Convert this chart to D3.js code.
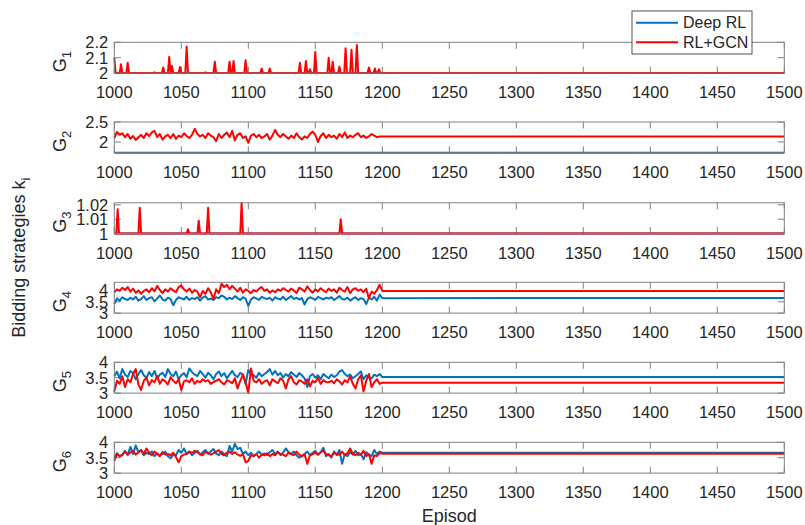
<!DOCTYPE html>
<html>
<head>
<meta charset="utf-8">
<script src="https://cdn.jsdelivr.net/npm/d3@7"></script>
<style>
body { margin: 0; background: white; }
svg { display: block; font-family: "Liberation Sans", Arial, sans-serif; }
</style>
</head>
<body>
<script>
const [width, height] = [805, 525]
const colors = {
    "blue": "#0072BD",
    "red": "#FF0000",
    "axis": "#262626",
    "box": "#808080"
}

// x axis
const episodes = d3.range(1000, 1201, 2)
const lastEpisode = 1500
const xTicks = [1000, 1050, 1100, 1150, 1200, 1250, 1300, 1350, 1400, 1450, 1500]
const seriesNames = ["Deep RL", "RL+GCN"]

// G1 and G3 only have short spikes above a flat line
const g1SpikeEp  = [1000, 1005, 1010, 1030, 1036.5, 1041, 1043, 1049, 1054, 1068, 1075, 1086, 1089, 1098, 1110, 1116, 1138.5, 1143, 1146, 1150, 1160, 1163, 1168, 1172.6, 1177, 1181, 1190, 1194.5, 1197.5]
const g1SpikeVal = [2.10, 2.057, 2.067, 2.005, 2.036, 2.105, 2.046, 2.04, 2.173, 2.005, 2.074, 2.074, 2.078, 2.084, 2.03, 2.03, 2.067, 2.078, 2.025, 2.137, 2.10, 2.074, 2.042, 2.162, 2.152, 2.183, 2.036, 2.03, 2.025]
const g3SpikeEp  = [1002.5, 1019, 1055, 1063, 1070, 1095, 1169]
const g3SpikeVal = [1.017, 1.018, 1.003, 1.009, 1.018, 1.0214, 1.010]

// noisy parts, episodes 1000..1200 step 2
const g2Red = [
    2.10,2.25,2.18,2.22,2.12,2.20,2.08,2.15,2.05,2.12,
    2.18,2.10,2.22,2.15,2.24,2.28,2.12,2.20,2.06,2.14,
    2.18,2.10,2.20,2.08,2.16,2.12,2.22,2.15,2.10,2.18,
    2.33,2.20,2.14,2.18,2.10,2.22,2.16,2.12,2.02,2.20,
    2.10,2.18,2.24,2.12,2.28,2.04,2.18,2.22,2.10,2.14,
    1.98,2.16,2.20,2.12,2.18,2.10,2.14,2.20,2.06,2.16,
    2.30,2.18,2.12,2.20,2.14,2.08,2.16,2.10,2.22,2.12,
    2.06,2.14,2.10,2.20,2.26,2.18,2.00,2.15,2.22,2.10,
    2.18,2.12,2.16,2.08,2.20,2.12,2.24,2.10,2.16,2.12,
    2.18,2.22,2.12,2.16,2.10,2.14,2.20,2.16,2.12,2.14,
    2.14]
const g4Blue = [
    3.40,3.65,3.55,3.70,3.62,3.58,3.68,3.60,3.72,3.55,
    3.62,3.75,3.58,3.66,3.70,3.52,3.64,3.78,3.60,3.55,
    3.68,3.62,3.35,3.58,3.70,3.65,3.60,3.72,3.58,3.66,
    3.62,3.70,3.55,3.68,3.75,3.60,3.64,3.58,3.70,3.66,
    3.78,3.72,3.60,3.68,3.62,3.75,3.66,3.58,3.70,3.64,
    3.32,3.60,3.70,3.65,3.58,3.72,3.66,3.62,3.68,3.55,
    3.70,3.64,3.60,3.72,3.58,3.66,3.75,3.62,3.68,3.60,
    3.66,3.38,3.62,3.70,3.65,3.58,3.72,3.66,3.60,3.68,
    3.64,3.70,3.58,3.66,3.75,3.62,3.60,3.68,3.55,3.64,
    3.70,3.58,3.66,3.62,3.40,3.68,3.60,3.72,3.55,3.82,
    3.66]
const g4Red = [
    3.92,4.05,3.98,4.12,4.02,4.15,3.95,4.08,3.90,4.00,
    3.85,3.98,4.05,3.92,4.10,3.96,4.20,4.02,3.88,4.05,
    3.95,4.10,4.00,3.92,4.15,4.22,4.05,3.96,4.08,3.90,
    4.02,3.95,3.70,3.98,3.85,4.10,3.92,3.62,4.05,3.88,
    4.30,4.15,4.25,4.05,4.20,4.08,3.95,4.12,3.90,4.05,
    3.98,3.88,4.02,3.95,4.08,4.15,3.98,4.05,3.90,4.00,
    3.92,4.05,3.98,4.10,4.02,3.95,4.08,4.00,3.88,4.12,
    4.05,3.95,4.18,4.02,3.90,4.05,3.96,4.10,4.00,3.92,
    4.08,3.98,4.05,3.90,4.12,4.02,3.95,4.15,3.88,4.05,
    4.10,3.98,4.05,3.92,4.08,3.65,3.95,3.85,4.02,4.25,
    3.98]
const g5Blue = [
    3.55,3.70,3.48,3.78,3.60,3.52,3.72,3.65,3.45,3.62,
    3.75,3.58,3.50,3.68,3.55,3.72,3.48,3.60,3.66,3.52,
    3.78,3.62,3.55,3.70,3.45,3.58,3.65,3.52,3.80,3.68,
    3.60,3.55,3.72,3.62,3.50,3.66,3.58,3.45,3.62,3.70,
    3.55,3.65,3.48,3.60,3.72,3.58,3.52,3.66,3.60,3.30,
    3.75,3.62,3.58,3.50,3.66,3.55,3.62,3.68,3.78,3.60,
    3.72,3.58,3.65,3.50,3.62,3.55,3.68,3.60,3.52,3.65,
    3.58,3.48,3.20,3.55,3.62,3.50,3.58,3.45,3.62,3.55,
    3.48,3.60,3.52,3.58,3.70,3.75,3.62,3.55,3.60,3.48,
    3.55,3.62,3.70,3.45,3.58,3.52,3.48,3.60,3.55,3.62,
    3.52]
const g5Red = [
    3.05,3.40,3.30,3.55,3.20,3.45,3.35,3.62,3.78,3.28,
    3.10,3.40,3.50,3.25,3.42,3.35,3.55,3.30,3.45,3.38,
    3.28,3.52,3.40,3.32,3.45,3.10,3.38,3.42,3.35,3.48,
    3.30,3.40,3.35,3.45,3.38,3.42,3.30,3.36,3.40,3.45,
    3.35,3.28,3.42,3.38,3.32,3.48,3.15,3.40,3.60,3.35,
    3.00,3.80,3.40,3.35,3.45,3.30,3.38,3.42,3.25,3.45,
    3.38,3.32,3.48,3.40,3.15,3.45,3.55,3.35,3.28,3.42,
    3.38,3.30,3.45,3.22,3.40,3.35,3.50,3.30,3.42,3.36,
    3.35,3.40,3.32,3.45,3.38,3.28,3.42,3.35,3.55,3.30,
    3.15,3.45,3.58,3.05,3.40,3.62,3.20,3.35,3.45,3.30,
    3.34]
const g6Blue = [
    3.50,3.65,3.55,3.60,3.72,3.58,3.85,3.62,3.90,3.68,
    3.75,3.58,3.66,3.62,3.70,3.55,3.64,3.58,3.62,3.70,
    3.55,3.48,3.60,3.58,3.75,3.66,3.80,3.62,3.70,3.58,
    3.65,3.72,3.60,3.68,3.75,3.62,3.70,3.78,3.64,3.58,
    3.70,3.62,3.55,3.88,3.70,3.95,3.78,3.82,3.62,3.70,
    3.58,3.66,3.55,3.62,3.70,3.60,3.64,3.58,3.68,3.75,
    3.62,3.70,3.58,3.66,3.80,3.68,3.62,3.70,3.58,3.50,
    3.55,3.62,3.70,3.58,3.66,3.72,3.60,3.68,3.82,3.55,
    3.62,3.50,3.70,3.58,3.75,3.30,3.62,3.55,3.68,3.60,
    3.72,3.58,3.62,3.45,3.68,3.60,3.55,3.75,3.62,3.70,
    3.66]
const g6Red = [
    3.40,3.62,3.55,3.58,3.70,3.62,3.66,3.72,3.60,3.68,
    3.75,3.62,3.80,3.66,3.58,3.70,3.62,3.55,3.68,3.60,
    3.62,3.58,3.66,3.52,3.35,3.55,3.60,3.62,3.70,3.66,
    3.72,3.68,3.62,3.58,3.70,3.66,3.60,3.64,3.70,3.75,
    3.62,3.58,3.66,3.70,3.62,3.68,3.60,3.56,3.62,3.35,
    3.40,3.58,3.55,3.62,3.50,3.60,3.58,3.64,3.55,3.62,
    3.58,3.68,3.62,3.60,3.55,3.66,3.62,3.58,3.70,3.60,
    3.55,3.62,3.30,3.58,3.62,3.66,3.60,3.68,3.72,3.62,
    3.58,3.55,3.66,3.62,3.60,3.70,3.58,3.65,3.80,3.62,
    3.58,3.66,3.60,3.72,3.55,3.62,3.30,3.58,3.55,3.66,
    3.63]

// flat values after episode 1200 (and the flat lines of G1-G3 Deep RL)
const tailBlue = [2, 1.73, 1, 3.67, 3.52, 3.66]
const tailRed  = [2, 2.14, 1, 3.98, 3.34, 3.63]

const yDomains = [[2, 2.2], [1.73, 2.5], [1, 1.0214], [3, 4.36], [3, 4], [3, 4]]
const yTicks = [[2, 2.1, 2.2], [2, 2.5], [1, 1.01, 1.02], [3, 3.5, 4], [3, 3.5, 4], [3, 3.5, 4]]

// build series
const flat = v => [[1000, v], [lastEpisode, v]]
const noisy = (vals, tail) => episodes.map((e, i) => [e, vals[i]]).concat([[lastEpisode, tail]])
const spikes = (eps, vals, base) => {
    let pts = eps[0] > 1000 ? [[1000, base]] : []
    eps.forEach((e, i) => pts.push([e - 1, base], [e, vals[i]], [e + 1, base]))
    pts.push([lastEpisode, base])
    return pts.filter(d => d[0] >= 1000)
}
const panels = [
    { blue: flat(tailBlue[0]), red: spikes(g1SpikeEp, g1SpikeVal, tailRed[0]) },
    { blue: flat(tailBlue[1]), red: noisy(g2Red, tailRed[1]) },
    { blue: flat(tailBlue[2]), red: spikes(g3SpikeEp, g3SpikeVal, tailRed[2]) },
    { blue: noisy(g4Blue, tailBlue[3]), red: noisy(g4Red, tailRed[3]) },
    { blue: noisy(g5Blue, tailBlue[4]), red: noisy(g5Red, tailRed[4]) },
    { blue: noisy(g6Blue, tailBlue[5]), red: noisy(g6Red, tailRed[5]) }
]

// DRAW
const left = 114.3, right = 784.3
const panelTop = [42.3, 122, 202.8, 282.3, 362.3, 442.3]
const panelH = 30.8
const tickLen = 6.5

const x = d3.scaleLinear().domain([1000, lastEpisode]).range([left, right])

const svg = d3.select("body")
        .append("svg")
            .attr("width", width)
            .attr("height", height)

panels.forEach((p, k) => {
    const top = panelTop[k], bottom = top + panelH
    const y = d3.scaleLinear().domain(yDomains[k]).range([bottom, top])
    const g = svg.append("g").attr("id", "G" + (k + 1))

    // ticks inside the box, all four sides
    const tk = g.append("g").attr("stroke", colors.box).attr("stroke-width", 1)
    xTicks.forEach(t => {
        tk.append("line").attr("x1", x(t)).attr("x2", x(t)).attr("y1", bottom).attr("y2", bottom - tickLen)
        tk.append("line").attr("x1", x(t)).attr("x2", x(t)).attr("y1", top).attr("y2", top + tickLen)
    })
    yTicks[k].forEach(t => {
        tk.append("line").attr("x1", left).attr("x2", left + tickLen).attr("y1", y(t)).attr("y2", y(t))
        tk.append("line").attr("x1", right).attr("x2", right - tickLen).attr("y1", y(t)).attr("y2", y(t))
    })

    const line = d3.line().x(d => x(d[0])).y(d => y(d[1]))
    g.append("path").datum(p.blue)
        .attr("d", line).attr("fill", "none")
        .attr("stroke", colors.blue).attr("stroke-width", 2).attr("stroke-linejoin", "round")
    g.append("path").datum(p.red)
        .attr("d", line).attr("fill", "none")
        .attr("stroke", colors.red).attr("stroke-width", 2).attr("stroke-linejoin", "round")

    g.append("rect")
        .attr("x", left).attr("y", top)
        .attr("width", right - left).attr("height", panelH)
        .attr("fill", "none").attr("stroke", colors.box).attr("stroke-width", 1)

    // tick labels
    g.append("g").selectAll("text")
        .data(xTicks).join("text")
            .attr("x", d => x(d)).attr("y", bottom + 25)
            .attr("text-anchor", "middle")
            .attr("font-size", 16.5).attr("fill", colors.axis)
            .text(d => d)
    g.append("g").selectAll("text")
        .data(yTicks[k]).join("text")
            .attr("x", left - 6).attr("y", d => y(d) + 6)
            .attr("text-anchor", "end")
            .attr("font-size", 16.5).attr("fill", colors.axis)
            .text(d => String(d))

    // G_k label
    const lab = g.append("text")
        .attr("transform", `translate(66,${top + panelH / 2 + 4}) rotate(-90)`)
        .attr("text-anchor", "middle")
        .attr("font-size", 18).attr("fill", colors.axis)
    lab.append("tspan").text("G")
    lab.append("tspan").attr("dy", 5).attr("font-size", 13).text(k + 1)
})

// axis titles
svg.append("text")
    .attr("x", (left + right) / 2).attr("y", 522)
    .attr("text-anchor", "middle")
    .attr("font-size", 18).attr("fill", colors.axis)
    .text("Episod")

const ylab = svg.append("text")
    .attr("transform", `translate(25,${(panelTop[0] + panelTop[5] + panelH) / 2}) rotate(-90)`)
    .attr("text-anchor", "middle")
    .attr("font-size", 18).attr("fill", colors.axis)
ylab.append("tspan").text("Bidding strategies k")
ylab.append("tspan").attr("dy", 5).attr("font-size", 13).text("i")

// legend
const legend = svg.append("g").attr("transform", "translate(632,11)")
legend.append("rect")
    .attr("width", 120).attr("height", 43)
    .attr("fill", "white").attr("stroke", colors.axis).attr("stroke-width", 0.8)
const legColors = [colors.blue, colors.red]
seriesNames.forEach((s, i) => {
    const ly = 11.7 + i * 19.6
    legend.append("line")
        .attr("x1", 4).attr("x2", 46).attr("y1", ly).attr("y2", ly)
        .attr("stroke", legColors[i]).attr("stroke-width", 2)
    legend.append("text")
        .attr("x", 51).attr("y", ly + 5.5)
        .attr("font-size", 16).attr("fill", colors.axis)
        .text(s)
})
</script>
</body>
</html>
